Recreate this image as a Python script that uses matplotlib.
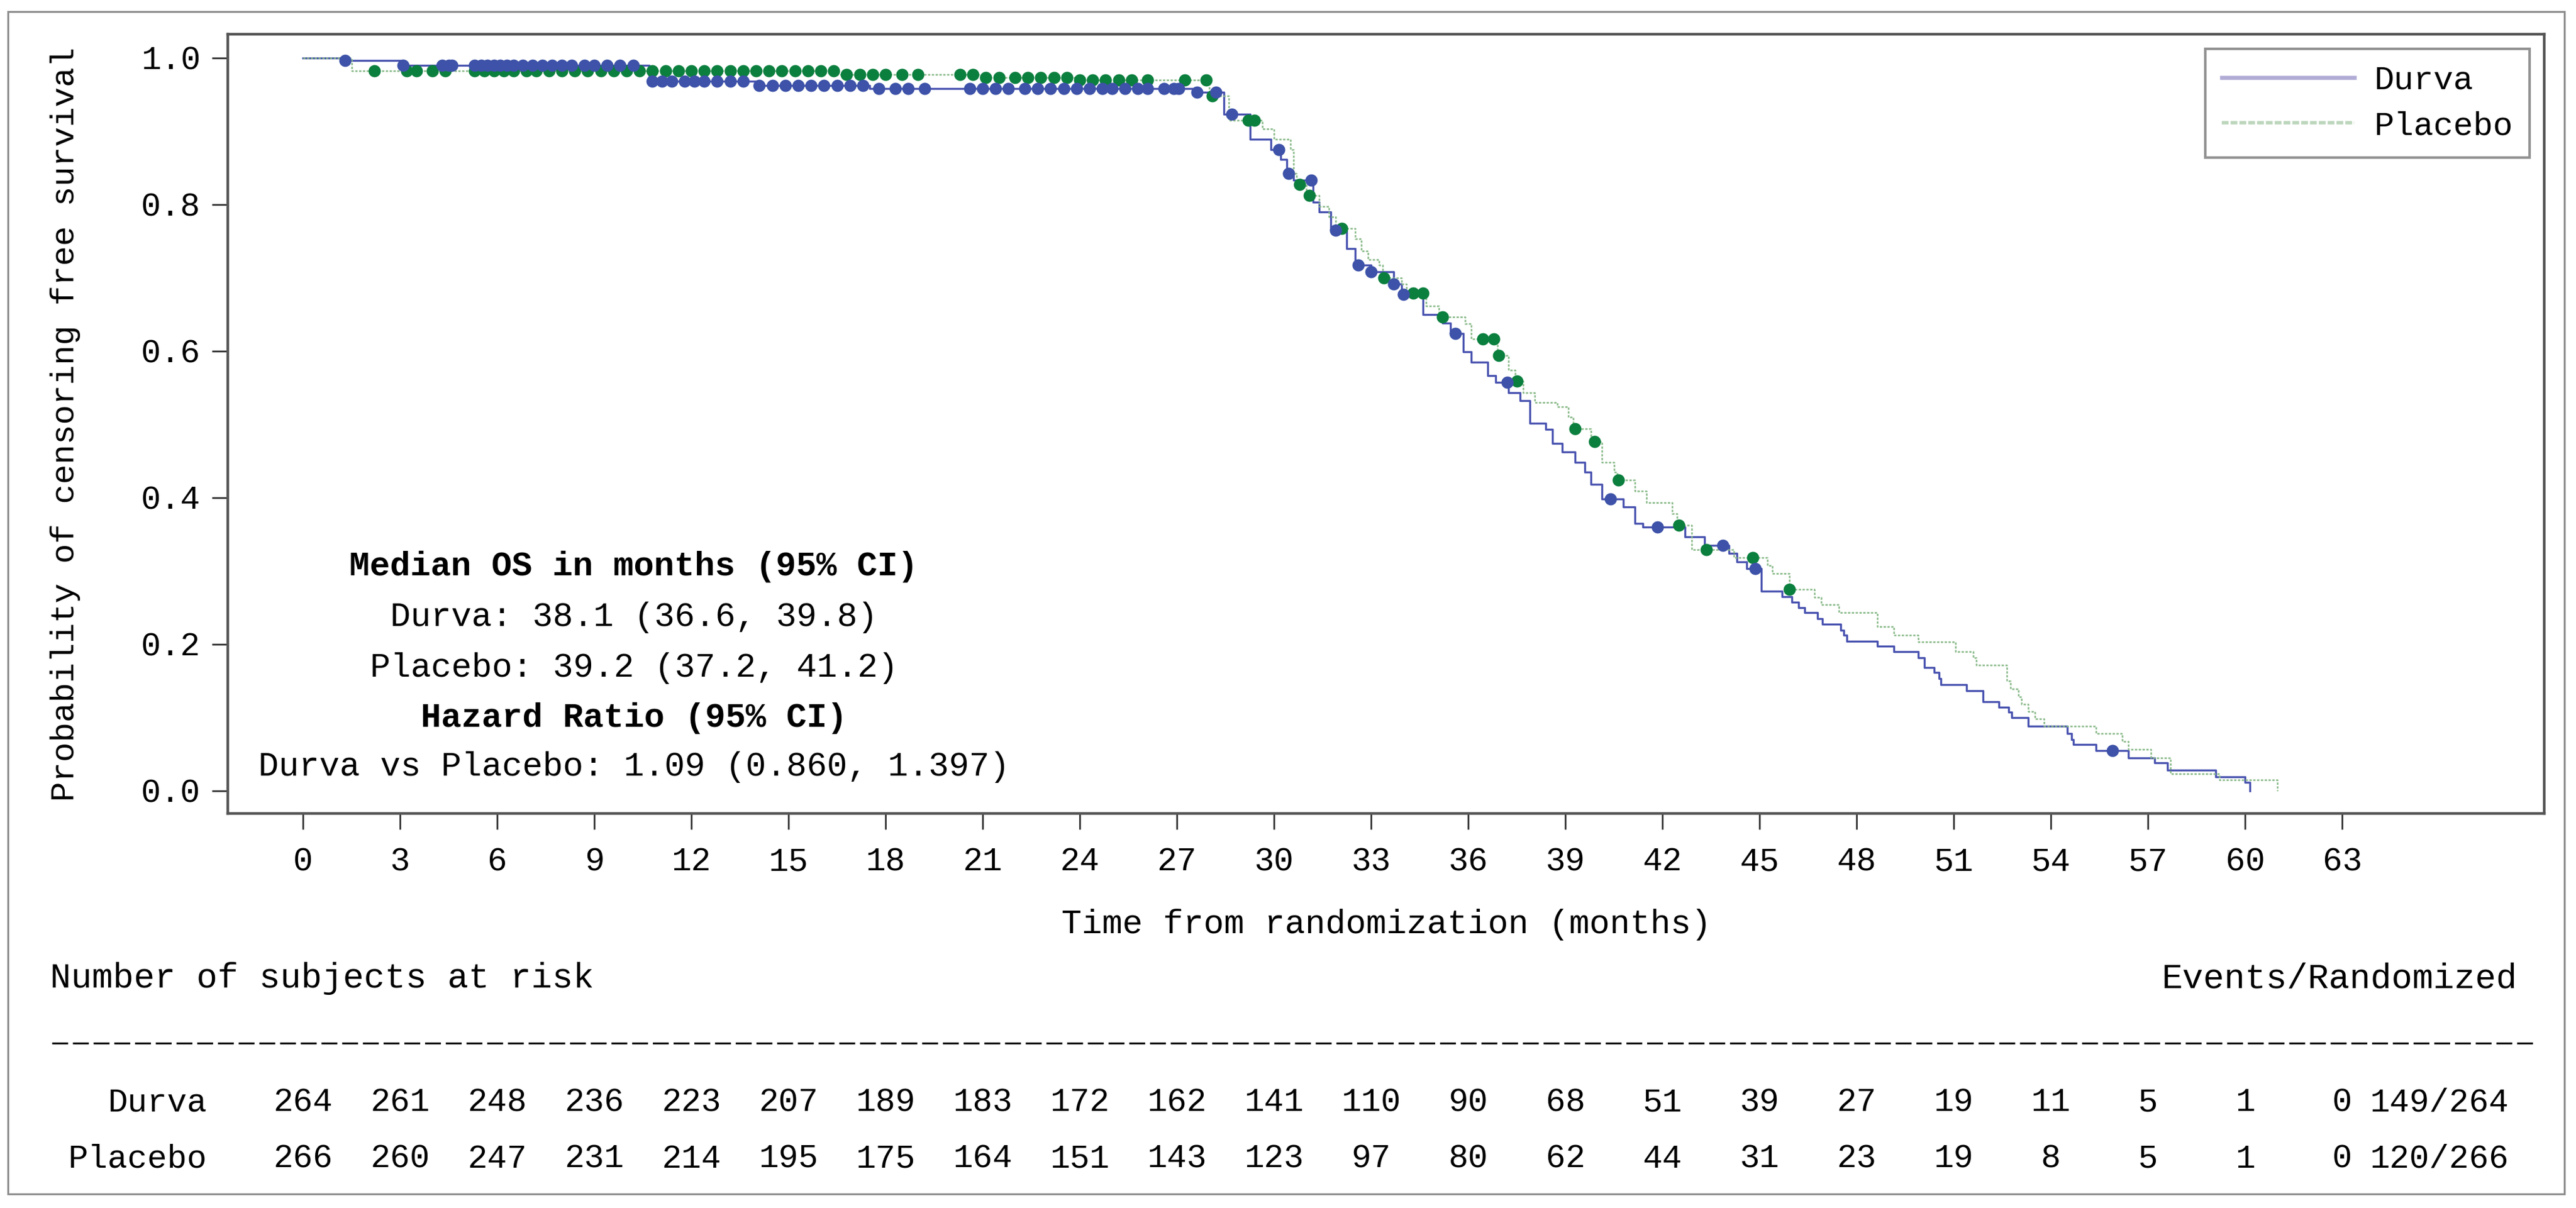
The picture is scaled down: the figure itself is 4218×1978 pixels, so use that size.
import numpy as np
import matplotlib
matplotlib.use("Agg")
import matplotlib.pyplot as plt
import matplotlib.transforms as mtransforms
from matplotlib.lines import Line2D
from matplotlib.patches import Rectangle

plt.rcParams['font.family'] = ['Liberation Mono', 'DejaVu Sans Mono']

# Kaplan-Meier steps: time (months) and survival after the step
durva_t = [0, 1.25, 3.1, 10.7, 14.0, 17.5, 27.6, 28.45, 29.27, 29.9, 30.2, 30.4, 30.6,
           31.2, 31.4, 31.75, 32.24, 32.5, 33.0, 33.7, 33.95, 34.6, 35.2, 35.45, 35.85,
           36.1, 36.6, 36.85, 37.25, 37.6, 37.9, 38.4, 38.6, 38.9, 39.3, 39.6, 39.8,
           40.14, 40.8, 41.15, 41.4, 42.7, 43.3, 44.05, 44.3, 44.6, 45.06, 45.7, 46.0,
           46.2, 46.4, 46.8, 46.95, 47.5, 47.6, 47.7, 48.65, 49.15, 49.9, 50.1, 50.4,
           50.55, 50.6, 51.4, 51.9, 52.4, 52.7, 52.8, 53.3, 54.5, 54.65, 54.7, 55.4,
           56.4, 57.2, 57.6, 59.1, 60.0, 60.15]
durva_s = [1.0, 0.996, 0.990, 0.968, 0.962, 0.958, 0.953, 0.923, 0.889, 0.875, 0.861, 0.842, 0.833,
           0.803, 0.790, 0.765, 0.740, 0.717, 0.708, 0.691, 0.677, 0.650, 0.638, 0.624, 0.599,
           0.585, 0.566, 0.557, 0.543, 0.532, 0.501, 0.493, 0.474, 0.462, 0.448, 0.435, 0.418,
           0.398, 0.387, 0.365, 0.360, 0.346, 0.335, 0.324, 0.312, 0.303, 0.272, 0.265, 0.257,
           0.250, 0.243, 0.235, 0.227, 0.219, 0.212, 0.204, 0.197, 0.190, 0.181, 0.168, 0.161,
           0.153, 0.145, 0.136, 0.121, 0.114, 0.107, 0.100, 0.088, 0.078, 0.070, 0.063, 0.055,
           0.045, 0.038, 0.028, 0.019, 0.011, 0.0]

placebo_t = [0, 1.5, 16.5, 21.0, 24.0, 28.0, 28.6, 29.65, 30.0, 30.5, 30.6, 30.7, 31.0,
             31.4, 31.7, 31.9, 32.5, 32.7, 32.9, 33.25, 33.35, 33.95, 34.1, 34.7, 35.1,
             35.9, 36.1, 36.9, 37.25, 37.45, 37.7, 38.05, 38.75, 39.1, 39.25, 39.8, 40.14,
             40.5, 40.6, 41.15, 41.5, 42.3, 42.45, 42.9, 44.2, 45.25, 45.4, 45.93, 46.7,
             46.9, 47.45, 48.65, 49.15, 49.9, 51.05, 51.6, 51.7, 52.65, 52.75, 53.0, 53.1,
             53.3, 53.5, 53.8, 55.4, 56.2, 56.4, 57.1, 57.7, 59.2, 61.0]
placebo_s = [1.0, 0.982, 0.977, 0.973, 0.970, 0.948, 0.915, 0.903, 0.889, 0.875, 0.842, 0.827, 0.812,
             0.797, 0.783, 0.767, 0.753, 0.736, 0.725, 0.717, 0.700, 0.691, 0.679, 0.661, 0.646,
             0.637, 0.616, 0.594, 0.574, 0.559, 0.543, 0.530, 0.524, 0.510, 0.494, 0.476, 0.448,
             0.435, 0.424, 0.409, 0.393, 0.378, 0.362, 0.329, 0.318, 0.307, 0.296, 0.275, 0.264,
             0.254, 0.243, 0.224, 0.212, 0.203, 0.190, 0.181, 0.171, 0.150, 0.139, 0.128, 0.118,
             0.108, 0.098, 0.088, 0.078, 0.067, 0.056, 0.045, 0.023, 0.015, 0.0]

# censoring times (months)
durva_cens = [1.3, 3.1, 4.3, 4.5, 4.6, 5.3, 5.5, 5.7, 5.9, 6.1, 6.3, 6.5, 6.8, 7.1, 7.4, 7.7,
              8.0, 8.3, 8.7, 9.0, 9.4, 9.8, 10.2, 10.8, 11.1, 11.4, 11.8, 12.1, 12.4, 12.8,
              13.2, 13.6, 14.1, 14.5, 14.9, 15.3, 15.7, 16.1, 16.5, 16.9, 17.3, 17.8, 18.3,
              18.7, 19.2, 20.6, 21.0, 21.4, 21.8, 22.3, 22.7, 23.1, 23.5, 23.9, 24.3, 24.7,
              25.0, 25.4, 25.8, 26.1, 26.6, 26.9, 27.06, 27.63, 28.2, 28.7, 30.15, 30.45,
              31.16, 31.9, 32.6, 33.0, 33.7, 34.0, 35.6, 37.2, 40.39, 41.84, 43.86, 44.87, 55.9]
placebo_cens = [2.2, 3.2, 3.5, 4.0, 4.4, 5.3, 5.6, 5.9, 6.2, 6.5, 6.9, 7.2, 7.6, 8.0, 8.4,
                8.8, 9.2, 9.6, 10.0, 10.4, 10.8, 11.2, 11.6, 12.0, 12.4, 12.8, 13.2, 13.6,
                14.0, 14.4, 14.8, 15.2, 15.6, 16.0, 16.4, 16.8, 17.2, 17.6, 18.0, 18.5, 19.0,
                20.3, 20.7, 21.1, 21.5, 22.0, 22.4, 22.8, 23.2, 23.6, 24.0, 24.4, 24.8, 25.2,
                25.6, 26.1, 27.25, 27.9, 28.1, 29.2, 29.4, 30.8, 31.1, 32.1, 33.4, 34.3, 34.6,
                35.2, 36.45, 36.8, 36.95, 37.5, 39.3, 39.9, 40.65, 42.5, 43.35, 44.8, 45.93]

# number at risk table
risk_months = [0, 3, 6, 9, 12, 15, 18, 21, 24, 27, 30, 33, 36, 39, 42, 45, 48, 51, 54, 57, 60, 63]
durva_risk = [264, 261, 248, 236, 223, 207, 189, 183, 172, 162, 141, 110, 90, 68, 51, 39, 27, 19, 11, 5, 1, 0]
placebo_risk = [266, 260, 247, 231, 214, 195, 175, 164, 151, 143, 123, 97, 80, 62, 44, 31, 23, 19, 8, 5, 1, 0]
events = ["149/264", "120/266"]

box_lines = ["Median OS in months (95% CI)",
             "Durva: 38.1 (36.6, 39.8)",
             "Placebo: 39.2 (37.2, 41.2)",
             "Hazard Ratio (95% CI)",
             "Durva vs Placebo: 1.09 (0.860, 1.397)"]

W, H, DPI = 4218, 1978, 200
fig = plt.figure(figsize=(W / DPI, H / DPI), dpi=DPI)


def fx(px):
    return px / W


def fy(py):
    return 1 - py / H


ax = fig.add_axes([fx(373), fy(1332), fx(4166) - fx(373), fy(55.5) - fy(1332)])


def surv_at(times, t, s):
    idx = np.searchsorted(np.array(t), np.array(times), side='right') - 1
    return np.array(s)[idx]


blue_line = '#4a54b0'
blue_dot = '#3d52a8'
green_line = '#86b886'
green_dot = '#0b7f3e'

ax.step(durva_t, durva_s, where='post', color=blue_line, lw=1.2, zorder=3)
ax.step(placebo_t, placebo_s, where='post', color=green_line, lw=0.9,
        ls=(0, (1.5, 1.0)), zorder=3)
ax.plot(placebo_cens, surv_at(placebo_cens, placebo_t, placebo_s), 'o', color=green_dot,
        ms=7.2, mec='none', zorder=4)
ax.plot(durva_cens, surv_at(durva_cens, durva_t, durva_s), 'o', color=blue_dot,
        ms=7.2, mec='none', zorder=4)

ax.set_xlim(-2.321, 69.245)
ax.set_ylim(-0.03125, 1.0325)
ax.set_xticks(risk_months)
ax.set_xticklabels([str(m) for m in risk_months])
ax.set_yticks([0, 0.2, 0.4, 0.6, 0.8, 1.0])
ax.set_yticklabels(["0.0", "0.2", "0.4", "0.6", "0.8", "1.0"])
ax.tick_params(direction='out', length=9.5, width=1.0, color='#333333', labelsize=19.5)
ax.tick_params(axis='y', pad=6.5)
ax.tick_params(axis='x', pad=10)
for sp in ax.spines.values():
    sp.set_color('#555555')
    sp.set_linewidth(1.6)

handles = [Line2D([], [], color='#b0acd6', lw=2.4),
           Line2D([], [], color='#bcd6bc', lw=2.0, ls=(0, (2, 0.6)))]
leg = ax.legend(handles, ["Durva", "Placebo"], loc='upper right',
                bbox_to_anchor=(0.9937, 0.981), borderaxespad=0, fancybox=False,
                edgecolor='#777777', prop={'family': 'Liberation Mono', 'size': 19.5},
                handlelength=4.0, handletextpad=0.6, labelspacing=0.45,
                borderpad=0.5)
leg.get_frame().set_linewidth(1.5)

# stats box
box_y = [928, 1011, 1094, 1176, 1256]
for i, (line, yy) in enumerate(zip(box_lines, box_y)):
    fig.text(fx(1038), fy(yy), line, ha='center', va='center', fontsize=20,
             weight='bold' if i in (0, 3) else 'normal')

fig.text(fx(107), fy(694), "Probability of censoring free survival", rotation=90,
         ha='center', va='center', fontsize=19.5)
fig.text(fx(2270), fy(1514), "Time from randomization (months)", ha='center',
         va='center', fontsize=20)

# at-risk table
fig.text(fx(82), fy(1602), "Number of subjects at risk", ha='left', va='center', fontsize=20.5)
fig.text(fx(4122), fy(1602), "Events/Randomized", ha='right', va='center', fontsize=20.5)
fig.add_artist(Line2D([fx(85), fx(4154)], [fy(1708), fy(1708)], transform=fig.transFigure,
                      color='black', lw=1.1, dashes=(8.5, 2.6)))

trans = mtransforms.blended_transform_factory(ax.transData, fig.transFigure)
rows = [("Durva", durva_risk, events[0], 1805), ("Placebo", placebo_risk, events[1], 1898)]
for name, counts, ev, yy in rows:
    fig.text(fx(339), fy(yy), name, ha='right', va='center', fontsize=19.5)
    for m, n in zip(risk_months, counts):
        ax.text(m, fy(yy), str(n), transform=trans, ha='center', va='center',
                fontsize=19.5, clip_on=False)
    fig.text(fx(4108), fy(yy), ev, ha='right', va='center', fontsize=19.5)

fig.add_artist(Rectangle((fx(12.6), fy(1955)), fx(4199) - fx(12.6), fy(19) - fy(1955),
                         transform=fig.transFigure, fill=False, edgecolor='#8c8c8c', lw=1.1))

fig.savefig("out.png", dpi=DPI)
